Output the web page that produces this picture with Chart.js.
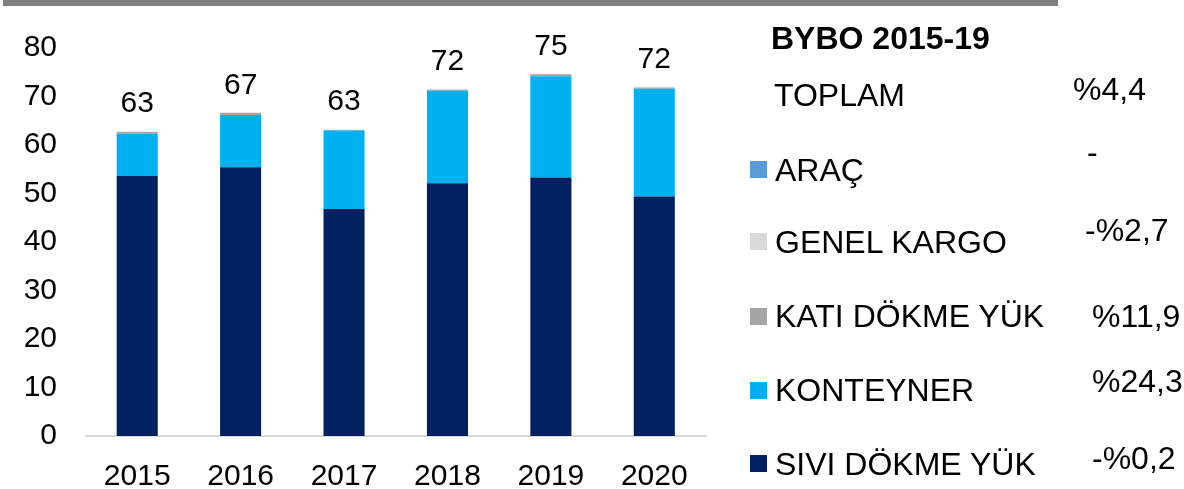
<!DOCTYPE html>
<html>
<head>
<meta charset="utf-8">
<script src="https://cdn.jsdelivr.net/npm/chart.js@4.4.0/dist/chart.umd.min.js"></script>
<style>
  html, body { margin: 0; padding: 0; background: #fff; }
  body { width: 1184px; height: 489px; position: relative; overflow: hidden;
         font-family: "Liberation Sans", Arial, sans-serif; color: #000; }
  #wrap { position: absolute; left: 0; top: 0; width: 1184px; height: 489px; }
  .rule { position: absolute; left: 3px; top: 0; width: 1055px; height: 6px; background: #808080; }
  .txt { position: absolute; line-height: 1; white-space: nowrap; }
  .sw { position: absolute; width: 17px; height: 17px; }
</style>
</head>
<body>
<div class="rule"></div>
<div id="wrap"><canvas id="chart" width="1184" height="489"></canvas></div>
<div id="side"></div>
<script>
// data
const YEARS = ['2015', '2016', '2017', '2018', '2019', '2020'];
const SIVI_DOKME = [53.6, 55.4, 46.8, 52.1, 53.3, 49.4];
const KONTEYNER = [8.7, 10.8, 16.2, 19.1, 20.9, 22.2];
const KATI_DOKME = [0.4, 0.4, 0.1, 0.2, 0.4, 0.2];
const GENEL_KARGO = [0.1, 0.1, 0.1, 0.1, 0.1, 0.2];
const ARAC = [0, 0, 0, 0, 0, 0];
const TOTALS = [63, 67, 63, 72, 75, 72];
const Y_MAX = 80;
const Y_STEP = 10;

const SERIES_NAMES = ['SIVI DÖKME YÜK', 'KONTEYNER', 'KATI DÖKME YÜK', 'GENEL KARGO', 'ARAÇ'];
const SERIES_COLORS = ['#002060', '#00B0F0', '#A5A5A5', '#D9D9D9', '#5B9BD5'];
const GROWTH = ['-%0,2', '%24,3', '%11,9', '-%2,7', '-'];
const PANEL_TITLE = 'BYBO 2015-19';
const TOTAL_LABEL = 'TOPLAM';
const TOTAL_GROWTH = '%4,4';

const FONT = '"Liberation Sans", Arial, sans-serif';

const totalsPlugin = {
    id: 'totals',
    afterDatasetsDraw(chart) {
        const { ctx, scales: { x, y } } = chart;
        ctx.save();
        ctx.font = `30px ${FONT}`;
        ctx.fillStyle = '#000';
        ctx.textAlign = 'center';
        ctx.textBaseline = 'alphabetic';
        TOTALS.forEach((t, i) => {
            const top = chart.data.datasets.reduce((s, d) => s + d.data[i], 0);
            ctx.fillText(String(t), x.getPixelForValue(i), y.getPixelForValue(top) - 19);
        });
        ctx.restore();
    },
};

const seriesData = [SIVI_DOKME, KONTEYNER, KATI_DOKME, GENEL_KARGO, ARAC];

new Chart(document.getElementById('chart'), {
    type: 'bar',
    data: {
        labels: YEARS,
        datasets: seriesData.map((d, i) => ({
            label: SERIES_NAMES[i],
            data: d,
            backgroundColor: SERIES_COLORS[i],
            borderWidth: 0,
            categoryPercentage: 1,
            barPercentage: 0.397,
        })),
    },
    options: {
        responsive: false,
        animation: false,
        layout: { padding: { left: 0, right: 478, top: 48, bottom: 0 } },
        plugins: { legend: { display: false }, tooltip: { enabled: false } },
        scales: {
            x: {
                stacked: true,
                grid: { display: false, drawTicks: false },
                border: { display: true, color: '#d9d9d9', width: 2 },
                ticks: { color: '#000', font: { family: FONT, size: 30 }, padding: 23 },
                afterFit: (s) => { s.height = 53; },
            },
            y: {
                stacked: true,
                min: 0,
                max: Y_MAX,
                grid: { display: false, drawTicks: false },
                border: { display: false },
                ticks: { stepSize: Y_STEP, color: '#000', font: { family: FONT, size: 30 }, padding: 28.5 },
                afterFit: (s) => { s.width = 85.5; },
            },
        },
    },
    plugins: [totalsPlugin],
});

// side panel (legend with growth rates)
const side = document.getElementById('side');
function addText(text, left, centerY, size, bold) {
    const el = document.createElement('div');
    el.className = 'txt';
    el.textContent = text;
    el.style.left = left + 'px';
    el.style.top = (centerY - 0.49 * size) + 'px';
    el.style.fontSize = size + 'px';
    if (bold) el.style.fontWeight = 'bold';
    side.appendChild(el);
}
addText(PANEL_TITLE, 771, 37.5, 32, true);
addText(TOTAL_LABEL, 774, 95, 32, false);
addText(TOTAL_GROWTH, 1073, 89, 32, false);

const ROW_Y = [463.3, 390, 316, 241.7, 169.5];
const GROWTH_Y = [458, 381, 316, 230, 152];
const GROWTH_X = [1092, 1092, 1092, 1085, 1087];
SERIES_NAMES.forEach((name, i) => {
    const sw = document.createElement('div');
    sw.className = 'sw';
    sw.style.left = '750px';
    sw.style.top = (ROW_Y[i] - 8.5) + 'px';
    sw.style.background = SERIES_COLORS[i];
    side.appendChild(sw);
    addText(name, 775, ROW_Y[i], 32, false);
    addText(GROWTH[i], GROWTH_X[i], GROWTH_Y[i], 32, false);
});
</script>
</body>
</html>
